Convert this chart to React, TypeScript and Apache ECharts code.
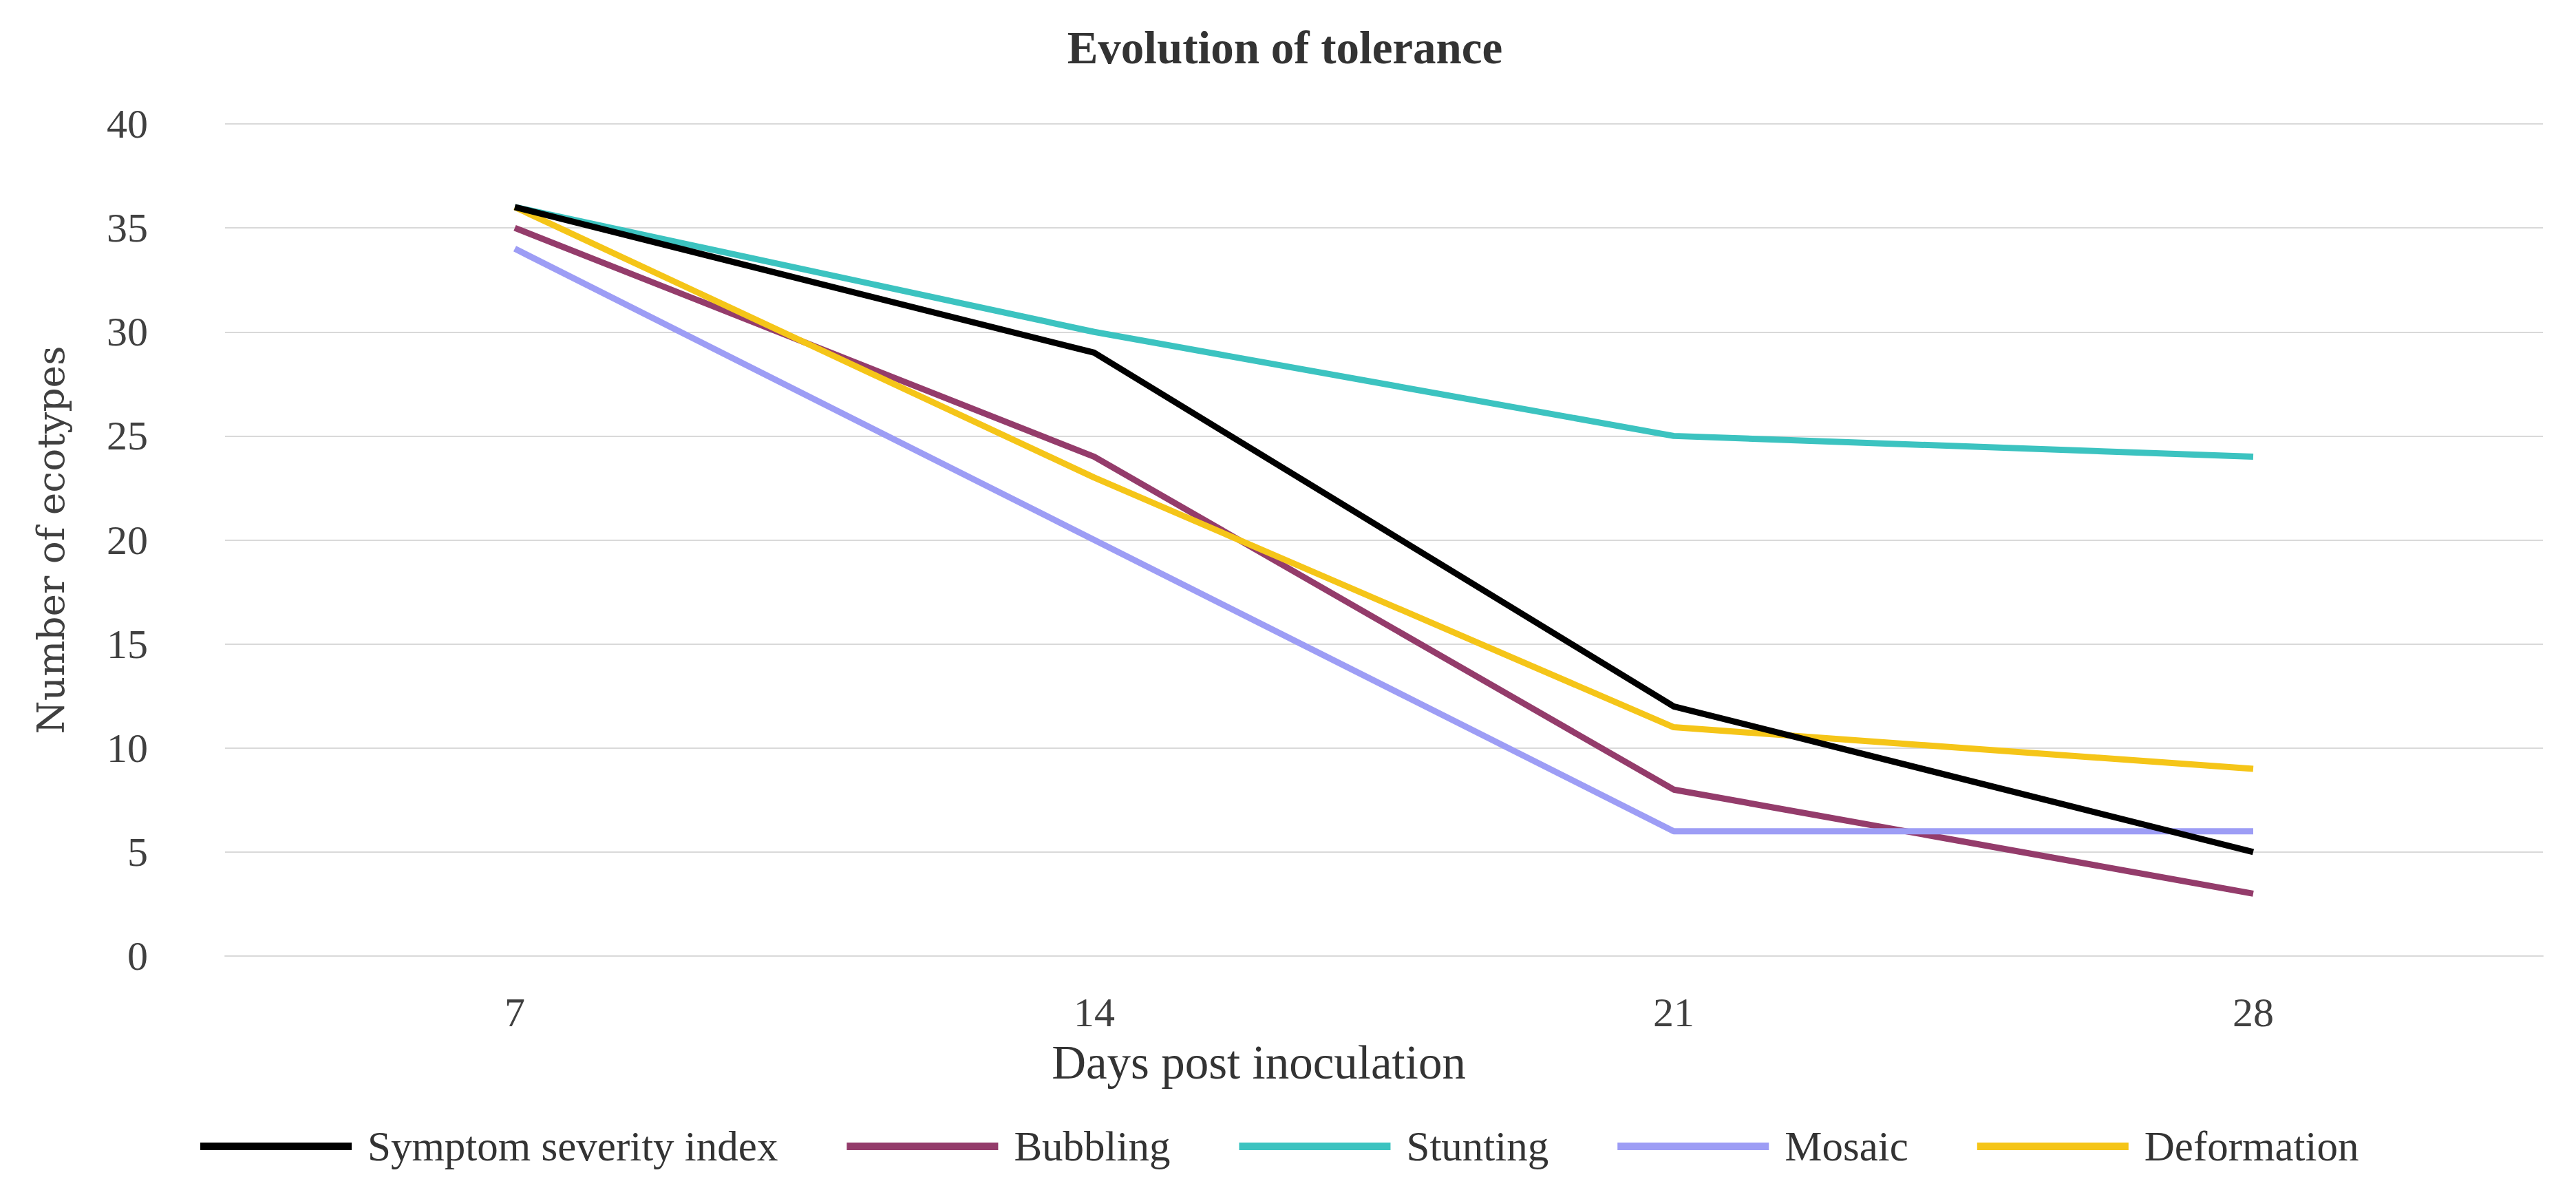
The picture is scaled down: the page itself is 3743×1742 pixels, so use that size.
import React, { useEffect, useRef } from "react";
import * as echarts from "echarts";

const days = ["7", "14", "21", "28"];
const seriesNames = ["Symptom severity index", "Bubbling", "Stunting", "Mosaic", "Deformation"];
const symptomSeverity = [36, 29, 12, 5];
const bubbling = [35, 24, 8, 3];
const stunting = [36, 30, 25, 24];
const mosaic = [34, 20, 6, 6];
const deformation = [36, 23, 11, 9];
const seriesColors = ["#000000", "#943c6b", "#3cc3c0", "#9d9df5", "#f5c518"];
const yTicks = { min: 0, max: 40, interval: 5 };

export default function App() {
  const ref = useRef<HTMLDivElement>(null);
  useEffect(() => {
    document.body.style.margin = "0";
    document.body.style.overflow = "hidden";
    const chart = echarts.init(ref.current!, null, { renderer: "svg" });
    const values = [symptomSeverity, bubbling, stunting, mosaic, deformation];
    const font = "'Liberation Serif', 'Times New Roman', serif";
    chart.setOption({
      animation: false,
      backgroundColor: "#ffffff",
      title: {
        text: "Evolution of tolerance",
        left: 1862,
        textAlign: "center",
        top: 30,
        textStyle: { fontFamily: font, fontWeight: "bold", fontSize: 67, color: "#333333" },
      },
      grid: { left: 327, right: 48, top: 180, bottom: 353, containLabel: false },
      legend: {
        data: seriesNames,
        left: 286,
        top: 1630,
        icon: "rect",
        itemWidth: 220,
        itemHeight: 11,
        itemGap: 100,
        textStyle: { fontFamily: font, fontSize: 61, color: "#333333", padding: [0, 0, 0, 18] },
      },
      xAxis: {
        type: "category",
        data: days,
        boundaryGap: true,
        axisLine: { show: true, lineStyle: { color: "#d9d9d9", width: 2 } },
        axisTick: { show: false },
        axisLabel: { fontFamily: font, fontSize: 60, color: "#404040", margin: 52 },
      },
      yAxis: {
        type: "value",
        min: yTicks.min,
        max: yTicks.max,
        interval: yTicks.interval,
        axisLine: { show: false },
        axisTick: { show: false },
        axisLabel: { fontFamily: font, fontSize: 60, color: "#404040", margin: 112 },
        splitLine: { lineStyle: { color: "#d9d9d9", width: 2 } },
        name: "Number of ecotypes",
        nameLocation: "middle",
        nameGap: 226,
        nameRotate: 90,
        nameTextStyle: { fontFamily: "'DejaVu Serif', serif", fontSize: 55, color: "#404040" },
      },
      graphic: [
        {
          type: "text",
          x: 1829,
          y: 1544,
          style: {
            text: "Days post inoculation",
            fontFamily: font,
            fontSize: 69,
            fill: "#333333",
            align: "center",
            verticalAlign: "middle",
          },
        },
      ],
      series: seriesNames.map((name, i) => ({
        name,
        type: "line",
        data: values[i],
        symbol: "none",
        z: i === 0 ? 5 : 2,
        lineStyle: { width: 9, color: seriesColors[i] },
        itemStyle: { color: seriesColors[i] },
      })),
    });
    return () => chart.dispose();
  }, []);
  return <div ref={ref} style={{ width: 3743, height: 1742 }} />;
}
